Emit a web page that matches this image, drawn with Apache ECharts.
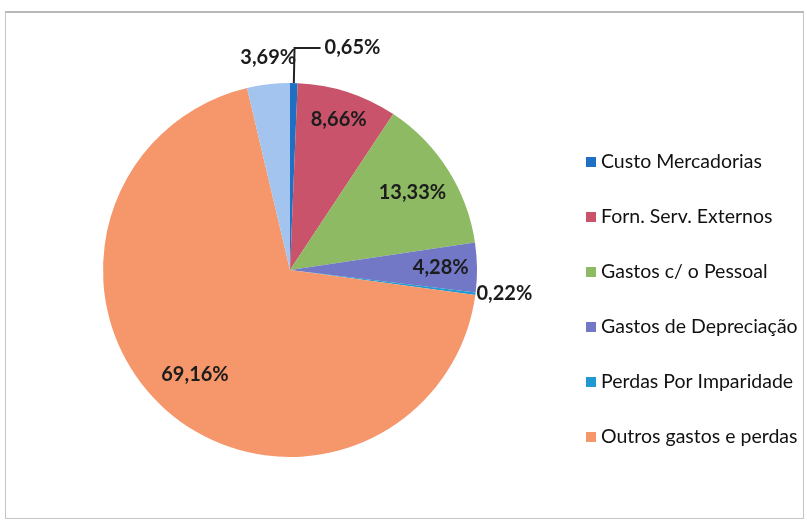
<!DOCTYPE html>
<html>
<head>
<meta charset="utf-8">
<script src="https://cdn.jsdelivr.net/npm/echarts@6/dist/echarts.min.js"></script>
<style>
  html, body { margin: 0; padding: 0; background: #ffffff; }
  #frame { position: absolute; left: 5px; top: 11px; width: 799px; height: 508px; border: 1px solid #c4c4c4; border-top: 2px solid #b8b8b8; box-sizing: border-box; }
  #chart { position: absolute; left: 0; top: 0; width: 807px; height: 523px; }
</style>
</head>
<body>
<div id="frame"></div>
<div id="chart"></div>
<script>
// ---- data ----
const categories = ['Custo Mercadorias', 'Forn. Serv. Externos', 'Gastos c/ o Pessoal',
  'Gastos de Depreciação', 'Perdas Por Imparidade', 'Outros gastos e perdas', 'Outros'];
const values = [0.65, 8.66, 13.33, 4.28, 0.22, 69.16, 3.69];
const legendNames = categories.slice(0, 6);
const colors = ['#1f6fc2', '#c8536a', '#8dba63', '#7277c6', '#1f99d0', '#f5966b', '#a2c4ef'];

// ---- layout / style ----
const CX = 290, CY = 270, R = 187;
const insideFrac = { 1: 0.83, 2: 0.76, 3: 0.79, 5: 0.74 };
const FONT = 'Lato, "Open Sans", sans-serif';

const total = values.reduce((a, b) => a + b, 0);
const midAngles = [];
let acc = 0;
values.forEach(v => { midAngles.push((acc + v / 2) / total * 2 * Math.PI); acc += v; });

const fmt = v => v.toFixed(2).replace('.', ',') + '%';

const outsideCfg = {
  0: { label: { position: 'outside', distanceToLabelLine: 4 }, labelLine: { show: true, length: 35, length2: 26, lineStyle: { color: '#222', width: 2 } } },
  4: { label: { position: 'outside', distanceToLabelLine: 0 }, labelLine: { show: false, length: 1, length2: 0 } },
  6: { label: { position: 'outside', distanceToLabelLine: 0 }, labelLine: { show: false, length: 27, length2: 0 } }
};

const data = categories.map((name, i) => {
  const item = { name: name, value: values[i], itemStyle: { color: colors[i] } };
  if (outsideCfg[i]) {
    item.label = outsideCfg[i].label;
    item.labelLine = outsideCfg[i].labelLine;
  } else {
    item.label = { position: 'inside' };
  }
  return item;
});

const chart = echarts.init(document.getElementById('chart'));
chart.setOption({
  animation: false,
  backgroundColor: 'transparent',
  legend: {
    data: legendNames,
    orient: 'vertical',
    left: 581,
    top: 147,
    icon: 'rect',
    itemWidth: 10,
    itemHeight: 10,
    itemGap: 35,
    textStyle: { fontFamily: FONT, fontSize: 19.5, color: '#111111', lineHeight: 20, padding: [0, 0, 0, 0] },
    selectedMode: false
  },
  series: [{
    type: 'pie',
    center: [CX, CY],
    radius: R,
    startAngle: 90,
    clockwise: true,
    avoidLabelOverlap: false,
    minAngle: 0,
    itemStyle: { borderWidth: 0 },
    label: {
      show: true,
      formatter: p => fmt(p.value),
      fontFamily: FONT,
      fontSize: 20,
      fontWeight: 'bold',
      color: '#1c1c1c',
      textBorderWidth: 0
    },
    labelLine: { show: false },
    labelLayout: function (params) {
      const i = params.dataIndex;
      if (outsideCfg[i]) {
        if (i === 6) return { align: 'center', verticalAlign: 'middle', dx: 3 };
        return {};
      }
      const a = midAngles[i];
      const d = (insideFrac[i] - 0.5) * R;
      return { dx: d * Math.sin(a), dy: -d * Math.cos(a) };
    },
    emphasis: { disabled: true },
    data: data
  }]
});
</script>
</body>
</html>
